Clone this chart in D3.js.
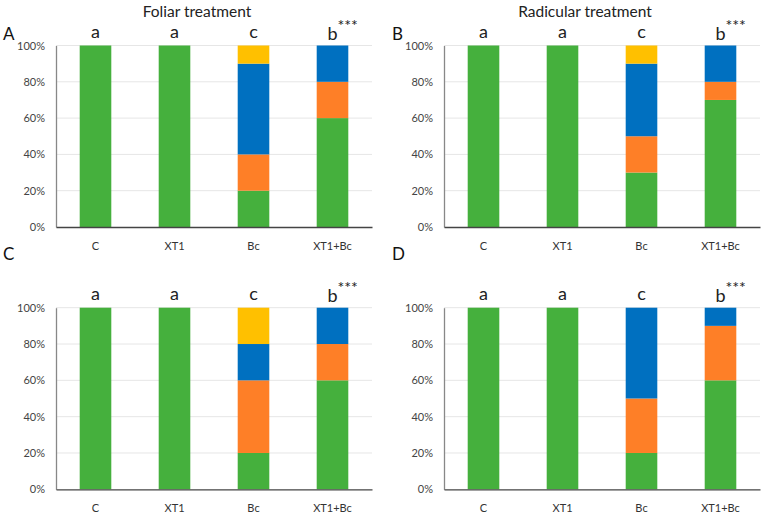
<!DOCTYPE html>
<html>
<head>
<meta charset="utf-8">
<script src="https://cdn.jsdelivr.net/npm/d3@7"></script>
<style>
  body { margin: 0; background: #fff; }
  svg { display: block; font-family: Lato, "Open Sans", sans-serif; }
</style>
</head>
<body>
<svg id="chart" width="767" height="517"></svg>
<script>
const categories = ["C", "XT1", "Bc", "XT1+Bc"];
const seriesNames = ["green", "orange", "blue", "yellow"];
const seriesColors = ["#45B03D", "#FE7F27", "#0070C0", "#FFC000"];
const yTicks = [0, 20, 40, 60, 80, 100];
const letters = ["a", "a", "c", "b"];
const stars = ["", "", "", "***"];
const panelLabels = ["A", "B", "C", "D"];
const titles = ["Foliar treatment", "Radicular treatment"];

// values per panel: [green, orange, blue, yellow] for each category
const panelA = [[100, 0, 0, 0], [100, 0, 0, 0], [20, 20, 50, 10], [60, 20, 20, 0]];
const panelB = [[100, 0, 0, 0], [100, 0, 0, 0], [30, 20, 40, 10], [70, 10, 20, 0]];
const panelC = [[100, 0, 0, 0], [100, 0, 0, 0], [20, 40, 20, 20], [60, 20, 20, 0]];
const panelD = [[100, 0, 0, 0], [100, 0, 0, 0], [20, 30, 50, 0], [60, 30, 10, 0]];
const panels = [panelA, panelB, panelC, panelD];

const svg = d3.select("#chart");

const layouts = [
  {x0: 56, x1: 372, yT: 45.5, yB: 227, lx: 3, ly: 40},
  {x0: 444, x1: 760, yT: 45.5, yB: 227, lx: 392, ly: 40},
  {x0: 56, x1: 372, yT: 307.7, yB: 489.3, lx: 3, ly: 260},
  {x0: 444, x1: 760, yT: 307.7, yB: 489.3, lx: 392, ly: 260}
];

// titles
svg.append("text").attr("x", 197).attr("y", 17).attr("text-anchor", "middle")
  .attr("font-size", 15.5).attr("fill", "#222").text(titles[0]);
svg.append("text").attr("x", 585).attr("y", 17).attr("text-anchor", "middle")
  .attr("font-size", 15.5).attr("fill", "#222").text(titles[1]);

panels.forEach((data, pi) => {
  const L = layouts[pi];
  const g = svg.append("g");
  const x = d3.scaleBand().domain(categories).range([L.x0, L.x1])
    .paddingInner(0.6).paddingOuter(0.3);
  const y = d3.scaleLinear().domain([0, 100]).range([L.yB, L.yT]);

  // gridlines
  g.selectAll(".grid").data(yTicks.filter(t => t > 0)).join("line")
    .attr("x1", L.x0).attr("x2", L.x1)
    .attr("y1", d => y(d)).attr("y2", d => y(d))
    .attr("stroke", "#E6E6E6").attr("stroke-width", 1);

  // stacked bars
  const rows = categories.map((c, i) => {
    const o = {cat: c};
    seriesNames.forEach((s, j) => o[s] = data[i][j]);
    return o;
  });
  const stack = d3.stack().keys(seriesNames)(rows);
  stack.forEach((layer, j) => {
    g.selectAll(null).data(layer.filter(d => d[1] - d[0] > 0)).join("rect")
      .attr("x", d => x(d.data.cat))
      .attr("width", x.bandwidth())
      .attr("y", d => y(d[1]))
      .attr("height", d => y(d[0]) - y(d[1]))
      .attr("fill", seriesColors[j]);
  });

  // y axis
  const yAxis = d3.axisLeft(y).tickValues(yTicks).tickSize(0).tickPadding(11)
    .tickFormat(d => d + "%");
  const ya = g.append("g").attr("transform", `translate(${L.x0},0)`).call(yAxis);
  ya.select(".domain").attr("stroke", "#888").attr("stroke-width", 1.3);
  ya.selectAll("text").attr("font-size", 11).attr("fill", "#444")
    .attr("font-family", "Lato, 'Open Sans', sans-serif");

  // x axis
  const xAxis = d3.axisBottom(x).tickSize(0).tickPadding(15);
  const xa = g.append("g").attr("transform", `translate(0,${L.yB})`).call(xAxis);
  xa.select(".domain").attr("stroke", "#444").attr("stroke-width", 1.3);
  xa.selectAll("text").attr("font-size", 11).attr("fill", "#333")
    .attr("font-family", "Lato, 'Open Sans', sans-serif");

  // significance letters
  g.selectAll(".let").data(categories).join("text")
    .attr("x", d => x(d) + x.bandwidth() / 2)
    .attr("y", (d, i) => L.yT - (letters[i] === "b" ? 6 : 8))
    .attr("text-anchor", "middle").attr("font-size", 18).attr("fill", "#222")
    .text((d, i) => letters[i]);
  g.selectAll(".star").data(categories.filter((d, i) => stars[i])).join("text")
    .attr("x", d => x(d) + x.bandwidth() / 2 + 5)
    .attr("y", L.yT - 15)
    .attr("text-anchor", "start").attr("font-size", 16).attr("fill", "#222")
    .text(d => stars[categories.indexOf(d)]);

  // panel label
  svg.append("text").attr("x", L.lx).attr("y", L.ly)
    .attr("font-size", 17).attr("fill", "#111").text(panelLabels[pi]);
});
</script>
</body>
</html>
